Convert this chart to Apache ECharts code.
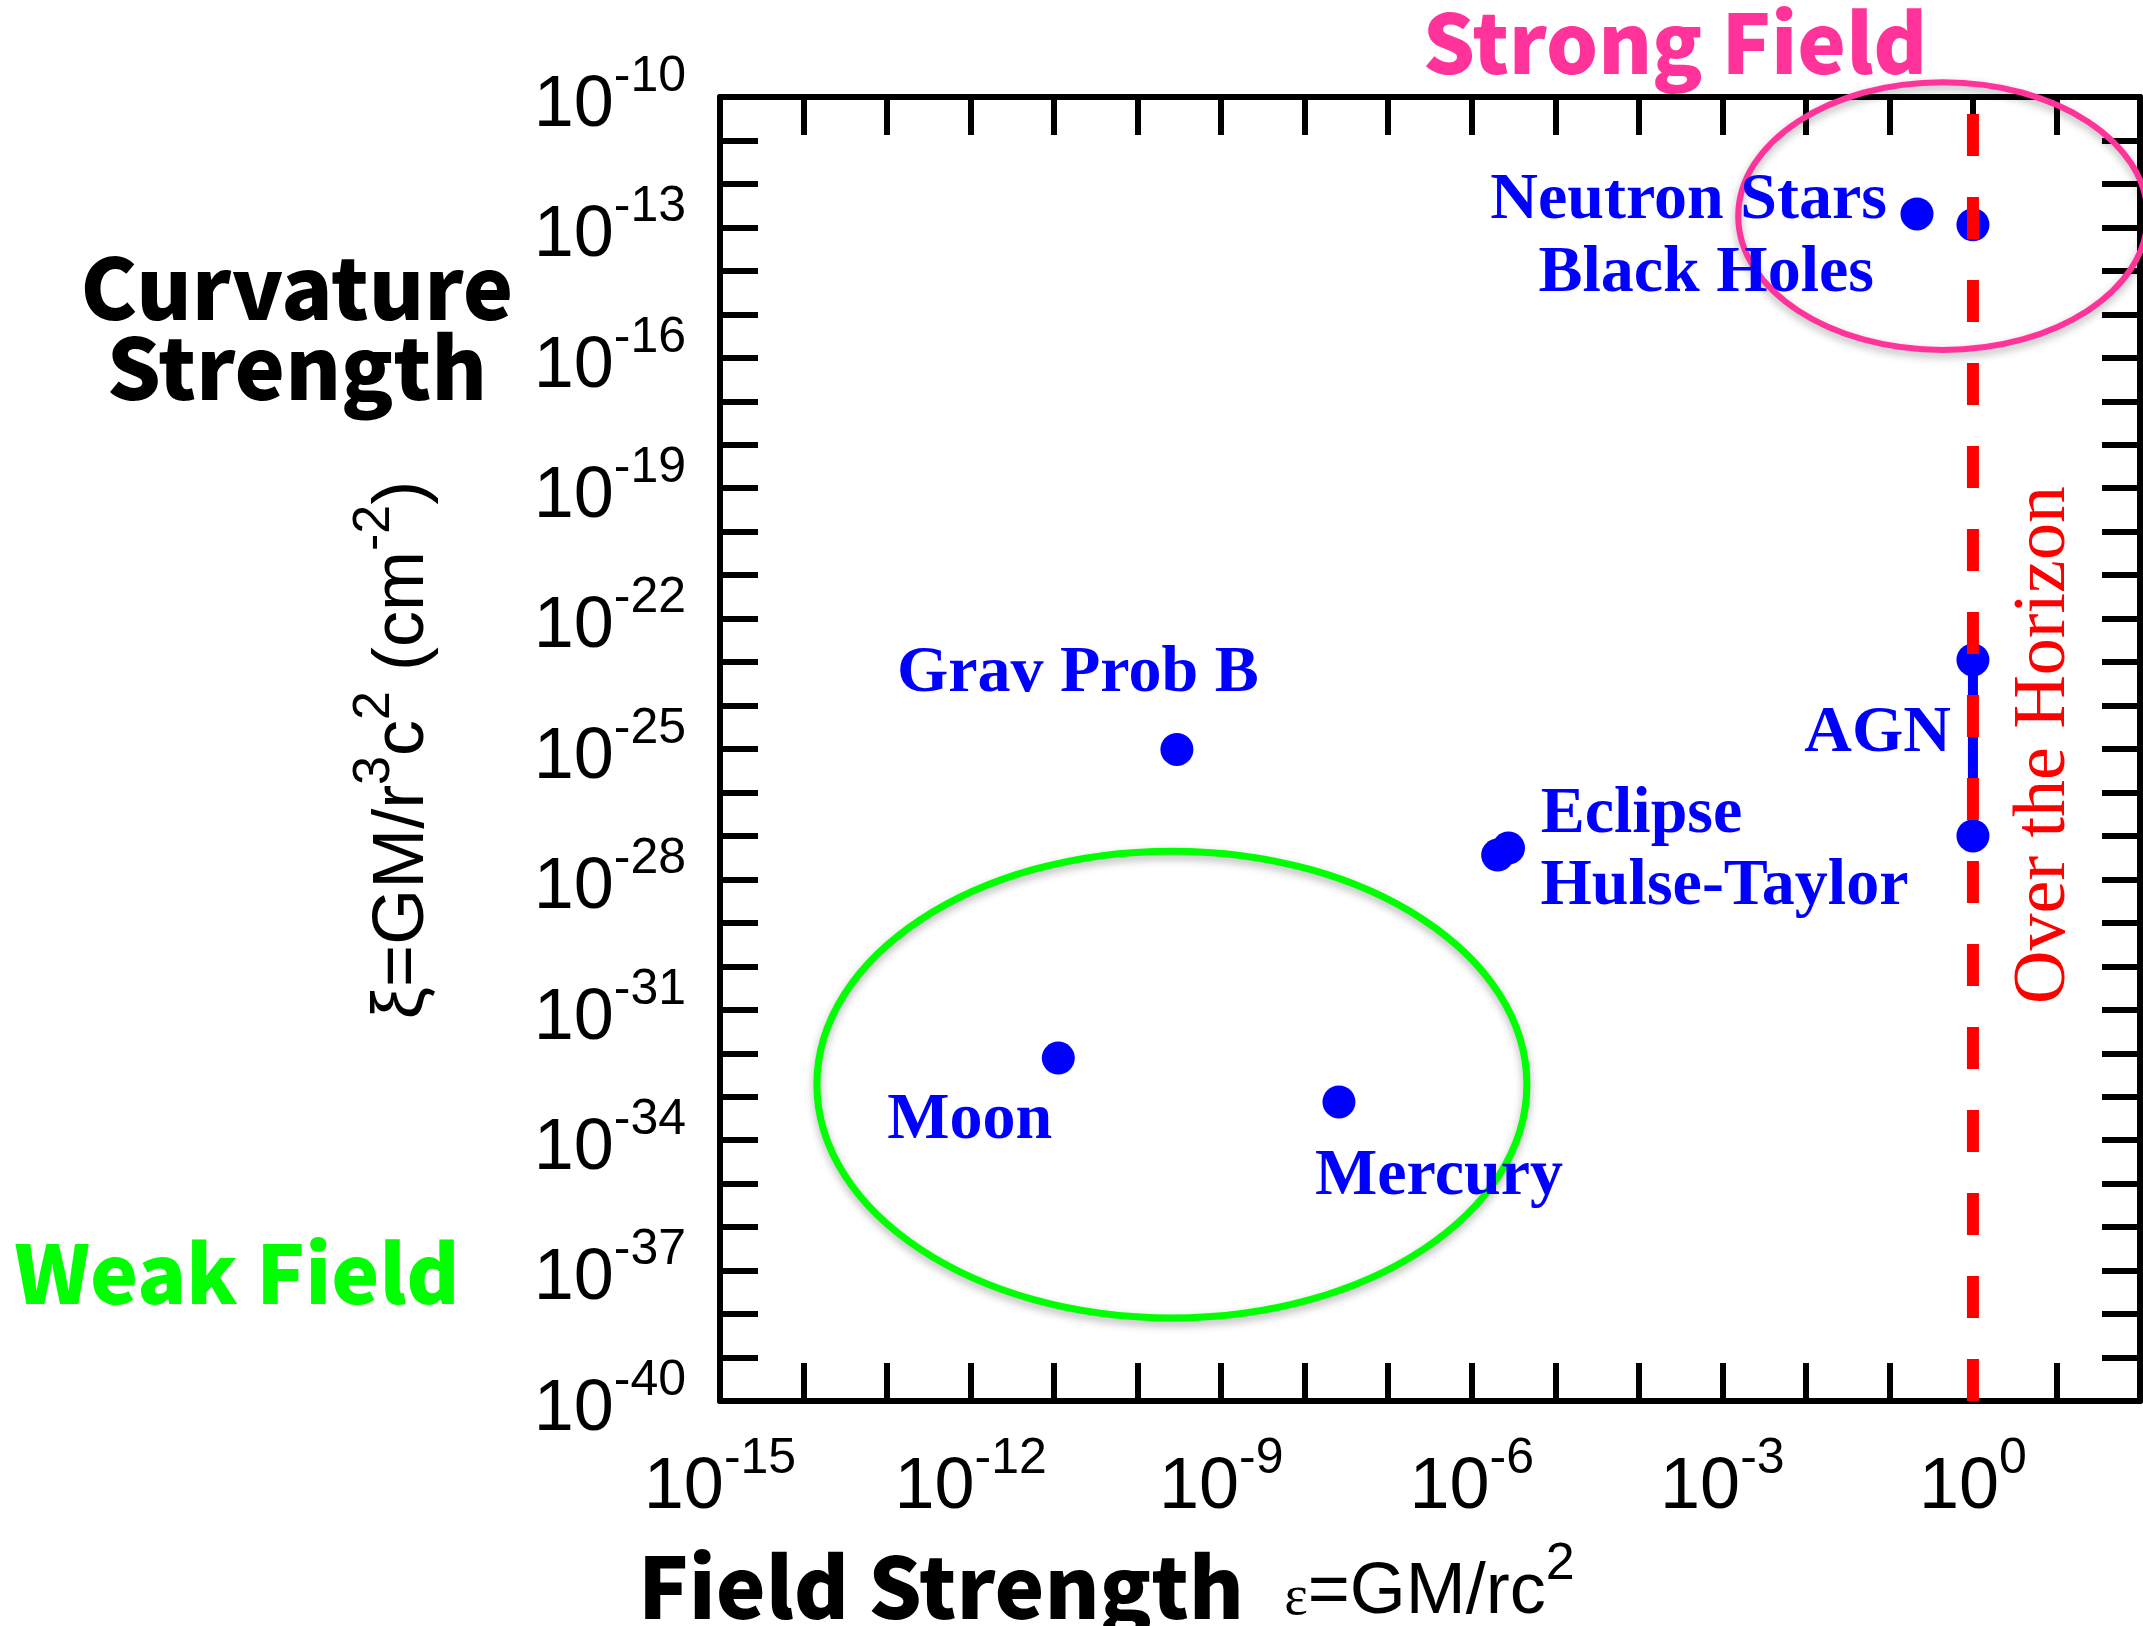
<!DOCTYPE html>
<html>
<head>
<meta charset="utf-8">
<style>
  html, body { margin: 0; padding: 0; background: #fff; }
  #chart { width: 2143px; height: 1626px; }
</style>
<script src="https://cdn.jsdelivr.net/npm/echarts@6/dist/echarts.min.js"></script>
</head>
<body>
<div id="chart"></div>
<script>
// both axes are log10 of the quantity (field strength eps, curvature xi in cm^-2)
const pointNames = ['Neutron Stars', 'Black Holes', 'Grav Prob B', 'Eclipse', 'Hulse-Taylor', 'Moon', 'Mercury']
const pointLogField = [-0.67, 0.0, -9.53, -5.69, -5.56, -10.95, -7.59]
const pointLogCurv = [-12.69, -12.94, -25.01, -27.44, -27.28, -32.11, -33.12]

// AGN range (bar between two dots)
const agnLogField = [0, 0]
const agnLogCurv = [-22.95, -27.0]

// horizon line at eps = 1
const horizonLogField = [0, 0]
const horizonLogCurv = [-40, -10]

// circled regions: centre and half width / half height in decades
const regionNames = ['Weak Field', 'Strong Field']
const regionLogField = [-9.59, -0.36]
const regionLogCurv = [-32.72, -12.74]
const regionHalfWidth = [4.25, 2.45]
const regionHalfHeight = [5.37, 3.08]

// exponents that get a tick label
const xLabelExps = [-15, -12, -9, -6, -3, 0]
const yLabelExps = [-40, -37, -34, -31, -28, -25, -22, -19, -16, -13, -10]

const regionColors = ['#00ff00', '#ff3399']
const regionWidths = [7, 6]
const blue = '#0000ff'
const sansFont = '"Liberation Sans", Arial, Helvetica, sans-serif'
const serifFont = '"Liberation Serif", "Times New Roman", serif'
const roundFont = '"Noto Sans CJK JP", "Noto Sans", sans-serif'

// where each name sits relative to its dot: [align, dx, dy]
const labelPlace = {
  'Neutron Stars': ['right', -30, -13],
  'Black Holes': ['right', -99, 49],
  'Grav Prob B': ['left', -280, -75],
  'Eclipse': ['left', 43, -40],
  'Hulse-Taylor': ['left', 32, 39],
  'Moon': ['left', -171, 63],
  'Mercury': ['left', -24, 75],
  'AGN': ['right', -22, 74]
}

function placedLabel(name) {
  const p = labelPlace[name]
  return {
    show: true,
    formatter: '{b}',
    position: 'inside',
    align: p[0],
    verticalAlign: 'middle',
    offset: [p[1], p[2]],
    color: blue,
    opacity: 1,
    fontFamily: serifFont,
    fontWeight: 'bold',
    fontSize: 66
  }
}

function powLabel(v, list) {
  const e = Math.round(v)
  return list.indexOf(e) >= 0 ? '{b|10}{s|' + e + '}' : ''
}

const powRich = {
  b: { fontFamily: sansFont, fontSize: 72, lineHeight: 72, verticalAlign: 'bottom', color: '#000' },
  s: { fontFamily: sansFont, fontSize: 50, lineHeight: 50, verticalAlign: 'bottom', padding: [0, 0, 40, 0], color: '#000' }
}

const frameLine = { show: true, onZero: false, lineStyle: { color: '#000', width: 6 } }
const frameTick = { show: true, inside: true, length: 38, lineStyle: { color: '#000', width: 6 } }

function xAxisDef(pos, showLabel) {
  return {
    type: 'value', min: -15, max: 2, interval: 1,
    position: pos,
    axisLine: frameLine, axisTick: frameTick, splitLine: { show: false },
    axisLabel: { show: showLabel, margin: 51, formatter: v => powLabel(v, xLabelExps), rich: powRich }
  }
}

function yAxisDef(pos, showLabel) {
  return {
    type: 'value', min: -40, max: -10, interval: 1,
    position: pos,
    axisLine: frameLine, axisTick: frameTick, splitLine: { show: false },
    axisLabel: { show: showLabel, margin: 34, padding: [18, 0, 0, 0], formatter: v => powLabel(v, yLabelExps), rich: powRich }
  }
}

const chart = echarts.init(document.getElementById('chart'))

const option = {
  animation: false,
  backgroundColor: '#fff',
  grid: { left: 720, top: 97, right: 0, bottom: 225 },
  xAxis: [xAxisDef('bottom', true), xAxisDef('top', false)],
  yAxis: [yAxisDef('left', true), yAxisDef('right', false)],
  series: [
    {
      type: 'custom',
      name: 'regions',
      clip: false,
      z: 3,
      silent: true,
      encode: { x: 0, y: 1 },
      data: regionNames.map((n, i) => [regionLogField[i], regionLogCurv[i], regionHalfWidth[i], regionHalfHeight[i]]),
      renderItem: (params, api) => {
        const c = api.coord([api.value(0), api.value(1)])
        const ex = api.coord([api.value(0) + api.value(2), api.value(1)])
        const ey = api.coord([api.value(0), api.value(1) + api.value(3)])
        return {
          type: 'ellipse',
          shape: { cx: c[0], cy: c[1], rx: ex[0] - c[0], ry: c[1] - ey[1] },
          style: {
            fill: 'none',
            stroke: regionColors[params.dataIndex],
            lineWidth: regionWidths[params.dataIndex],
            shadowBlur: 8,
            shadowOffsetY: 4,
            shadowColor: 'rgba(0,0,0,0.3)'
          }
        }
      }
    },
    {
      type: 'scatter',
      name: 'objects',
      z: 5,
      symbolSize: 33,
      itemStyle: { color: blue, opacity: 1 },
      emphasis: { disabled: true },
      data: pointNames.map((n, i) => ({ name: n, value: [pointLogField[i], pointLogCurv[i]], label: placedLabel(n) }))
    },
    {
      type: 'line',
      name: 'AGN',
      z: 5,
      symbol: 'circle',
      symbolSize: 33,
      itemStyle: { color: blue, opacity: 1 },
      lineStyle: { color: blue, width: 10 },
      data: agnLogField.map((x, i) => (i === 0
        ? { name: 'AGN', value: [x, agnLogCurv[i]], label: placedLabel('AGN') }
        : { value: [x, agnLogCurv[i]] }))
    },
    {
      type: 'line',
      name: 'horizon',
      z: 10,
      silent: true,
      symbol: 'none',
      lineStyle: { color: '#ff0000', width: 12, type: [42, 41] },
      data: horizonLogField.map((x, i) => [x, horizonLogCurv[i]])
    }
  ],
  graphic: [
    {
      type: 'text', x: 1675, y: 43, z: 20,
      style: { text: 'Strong Field', fill: regionColors[1], fontFamily: roundFont, fontWeight: 900, fontSize: 82, align: 'center', verticalAlign: 'middle' }
    },
    {
      type: 'text', x: 297, y: 328, z: 20,
      style: { text: 'Curvature\nStrength', fill: '#000', fontFamily: roundFont, fontWeight: 900, fontSize: 85, lineHeight: 80, align: 'center', verticalAlign: 'middle' }
    },
    {
      type: 'text', x: 237, y: 1273, z: 20,
      style: { text: 'Weak Field', fill: regionColors[0], fontFamily: roundFont, fontWeight: 900, fontSize: 81, align: 'center', verticalAlign: 'middle' }
    },
    {
      type: 'text', x: 2045, y: 745, z: 20, rotation: Math.PI / 2,
      style: { text: 'Over the Horizon', fill: '#ff0000', fontFamily: serifFont, fontSize: 74, align: 'center', verticalAlign: 'middle' }
    },
    {
      type: 'text', x: 403, y: 750, z: 20, rotation: Math.PI / 2,
      style: {
        text: '{a|ξ=GM/r}{s|3}{a|c}{s|2}{a| (cm}{s|-2}{a|)}',
        align: 'center', verticalAlign: 'middle',
        rich: {
          a: { fontFamily: sansFont, fontSize: 72, lineHeight: 72, verticalAlign: 'bottom', fill: '#000' },
          s: { fontFamily: sansFont, fontSize: 52, lineHeight: 52, verticalAlign: 'bottom', padding: [0, 0, 38, 0], fill: '#000' }
        }
      }
    },
    {
      type: 'text', x: 638, y: 1629, z: 20,
      style: {
        text: '{a|Field Strength}{e|ε}{c|=GM/rc}{s|2}',
        align: 'left', verticalAlign: 'bottom',
        rich: {
          a: { fontFamily: roundFont, fontWeight: 900, fontSize: 84, lineHeight: 84, verticalAlign: 'bottom', fill: '#000', padding: [0, 40, 0, 0] },
          e: { fontFamily: serifFont, fontSize: 56, lineHeight: 56, verticalAlign: 'bottom', fill: '#000', padding: [0, 0, 2, 0] },
          c: { fontFamily: sansFont, fontSize: 72, lineHeight: 72, verticalAlign: 'bottom', fill: '#000' },
          s: { fontFamily: sansFont, fontSize: 52, lineHeight: 52, verticalAlign: 'bottom', padding: [0, 0, 38, 0], fill: '#000' }
        }
      }
    }
  ]
}

chart.setOption(option)
</script>
</body>
</html>
